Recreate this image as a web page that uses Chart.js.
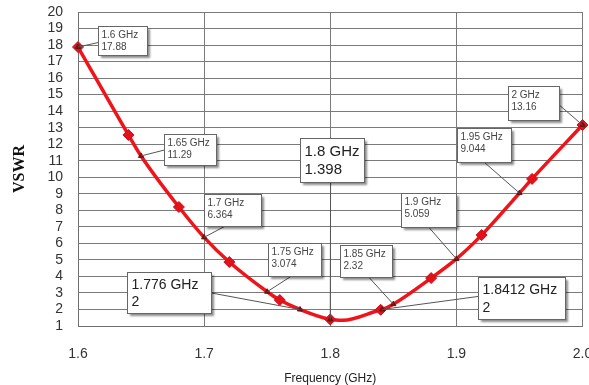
<!DOCTYPE html>
<html>
<head>
<meta charset="utf-8">
<script src="https://cdn.jsdelivr.net/npm/chart.js@4.4.1/dist/chart.umd.min.js"></script>
<style>
  html, body { margin: 0; padding: 0; background: #fff; }
  #wrap { width: 589px; height: 385px; }
</style>
</head>
<body>
<div id="wrap"><canvas id="myChart" width="589" height="385"></canvas></div>
<script>
// curve (GHz / VSWR)
const curveFreq = [1.6, 1.64, 1.65, 1.68, 1.7, 1.72, 1.75, 1.76, 1.776, 1.8, 1.81, 1.84, 1.8412, 1.85, 1.88, 1.9, 1.92, 1.95, 1.96, 2.0];
const curveVswr = [17.88, 12.56, 11.29, 8.2, 6.364, 4.87, 3.074, 2.57, 2, 1.398, 1.35, 1.98, 2, 2.32, 3.9, 5.059, 6.5, 9.044, 9.9, 13.16];

// diamond markers every 0.04 GHz
const markerFreq = [1.6, 1.64, 1.68, 1.72, 1.76, 1.8, 1.84, 1.88, 1.92, 1.96, 2.0];
const markerVswr = [17.88, 12.56, 8.2, 4.87, 2.57, 1.398, 1.98, 3.9, 6.5, 9.9, 13.16];

// data labels
const annoFreq = [1.6, 1.65, 1.7, 1.75, 1.8, 1.85, 1.776, 1.8412, 1.9, 1.95, 2];
const annoVswr = [17.88, 11.29, 6.364, 3.074, 1.398, 2.32, 2, 2, 5.059, 9.044, 13.16];
const annoText = [
    ["1.6 GHz", "17.88"], ["1.65 GHz", "11.29"], ["1.7 GHz", "6.364"], ["1.75 GHz", "3.074"],
    ["1.8 GHz", "1.398"], ["1.85 GHz", "2.32"], ["1.776 GHz", "2"], ["1.8412 GHz", "2"],
    ["1.9 GHz", "5.059"], ["1.95 GHz", "9.044"], ["2 GHz", "13.16"]
];

const xTicks = [1.6, 1.7, 1.8, 1.9, 2];

// label box layout: dx, dy, w, h (px from the point), leader anchor on box, font size
const boxLayout = [
    [20, -21, 49, 29, 0, 0.55, 10],
    [23, -22, 52, 31, 0, 0.5, 10],
    [0, -43, 57, 32, 0.35, 1, 10],
    [1, -49, 53, 33, 0.42, 1, 10],
    [-30, -181, 64, 44, 0.47, 1, 15],
    [-53, -59, 52, 32, 0.55, 1, 10],
    [-173, -37, 84, 41, 1, 0.5, 14],
    [96, -32, 87, 42, 0, 0.45, 14],
    [-55, -66, 55, 34, 0.5, 1, 10],
    [-62, -65, 54, 34, 0.5, 1, 10],
    [-75, -39, 51, 34, 1, 0.55, 10]
];

const labelBoxes = {
    id: "labelBoxes",
    afterDatasetsDraw(chart) {
        const ctx = chart.ctx;
        const xs = chart.scales.x, ys = chart.scales.y;
        annoFreq.forEach((f, i) => {
            const px = xs.getPixelForValue(f);
            const py = ys.getPixelForValue(annoVswr[i]);
            const [dx, dy, w, h, ax, ay, fs] = boxLayout[i];
            const bx = Math.round(px + dx) + 0.5, by = Math.round(py + dy) + 0.5;
            ctx.save();
            // leader line
            ctx.strokeStyle = "#555";
            ctx.lineWidth = 1;
            ctx.beginPath();
            ctx.moveTo(bx + ax * w, by + ay * h);
            ctx.lineTo(px, py);
            ctx.stroke();
            // box with shadow
            ctx.shadowColor = "rgba(0,0,0,0.45)";
            ctx.shadowOffsetX = 2;
            ctx.shadowOffsetY = 2;
            ctx.shadowBlur = 2;
            ctx.fillStyle = "#fff";
            ctx.fillRect(bx, by, w, h);
            ctx.shadowColor = "transparent";
            ctx.strokeStyle = "#666";
            ctx.strokeRect(bx, by, w, h);
            // text
            const big = fs > 12;
            ctx.fillStyle = big ? "#222" : "#444";
            ctx.font = fs + "px 'Liberation Sans', Arial, sans-serif";
            ctx.textBaseline = "middle";
            ctx.textAlign = "left";
            const lines = annoText[i];
            const y1 = big ? by + h * 0.31 : by + 9;
            const y2 = big ? by + h * 0.72 : by + 21;
            ctx.fillText(lines[0], bx + (big ? 4 : 3), y1);
            ctx.fillText(lines[1], bx + (big ? 4 : 3), y2);
            ctx.restore();
        });
    }
};

function zeroPad(scale) {
    scale.paddingLeft = 0;
    scale.paddingRight = 0;
    scale.paddingTop = 0;
    scale.paddingBottom = 0;
}

const ctx = document.getElementById("myChart").getContext("2d");
new Chart(ctx, {
    type: "line",
    data: {
        datasets: [
            {
                label: "curve",
                data: curveFreq.map((f, i) => ({ x: f, y: curveVswr[i] })),
                borderColor: "#f01418",
                borderWidth: 3.5,
                pointRadius: 0,
                cubicInterpolationMode: "monotone",
                order: 3
            },
            {
                label: "markers",
                data: markerFreq.map((f, i) => ({ x: f, y: markerVswr[i] })),
                showLine: false,
                pointStyle: "rectRot",
                pointRadius: 5.5,
                pointBackgroundColor: "#e3121a",
                pointBorderColor: "#c8101a",
                pointBorderWidth: 1,
                order: 2
            },
            {
                label: "labels",
                data: annoFreq.map((f, i) => ({ x: f, y: annoVswr[i] })),
                showLine: false,
                pointStyle: "triangle",
                pointRadius: 3,
                pointBackgroundColor: "#6a1515",
                pointBorderColor: "#6a1515",
                order: 1
            }
        ]
    },
    options: {
        responsive: false,
        animation: false,
        clip: false,
        layout: { padding: { top: 12, right: 2, left: 0, bottom: 0 } },
        plugins: {
            legend: { display: false },
            tooltip: { enabled: false }
        },
        scales: {
            x: {
                type: "linear",
                min: 1.6,
                max: 2.0,
                afterBuildTicks: (scale) => { scale.ticks = xTicks.map((v) => ({ value: v })); },
                afterFit: (scale) => { scale.height = 59; zeroPad(scale); },
                ticks: {
                    padding: 20,
                    color: "#333",
                    font: { family: "'Liberation Sans', Arial", size: 14 },
                    maxRotation: 0,
                    autoSkip: false
                },
                grid: { color: "#7a7a7a", drawTicks: false },
                border: { color: "#707070" },
                title: {
                    display: true,
                    text: "Frequency (GHz)",
                    color: "#222",
                    font: { family: "'Liberation Sans', Arial", size: 12, lineHeight: 1 },
                    padding: { top: 0, bottom: 0 }
                }
            },
            y: {
                min: 1,
                max: 20,
                ticks: {
                    stepSize: 1,
                    padding: 15,
                    autoSkip: false,
                    color: "#333",
                    font: { family: "'Liberation Sans', Arial", size: 14 }
                },
                afterFit: (scale) => { scale.width = 78; zeroPad(scale); },
                grid: { color: "#7a7a7a", drawTicks: false },
                border: { color: "#707070" },
                title: {
                    display: true,
                    text: "VSWR",
                    color: "#111",
                    font: { family: "'Liberation Serif', 'Times New Roman', serif", size: 16, weight: "bold" },
                    padding: { top: 10, bottom: 0 }
                }
            }
        }
    },
    plugins: [labelBoxes]
});
</script>
</body>
</html>
